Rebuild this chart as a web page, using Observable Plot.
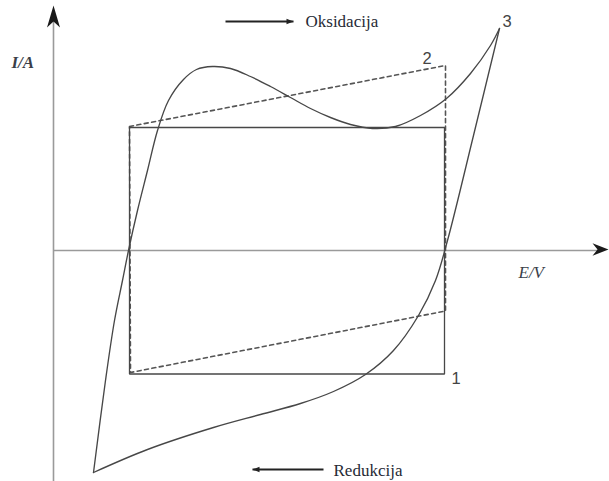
<!DOCTYPE html>
<html>
<head>
<meta charset="utf-8">
<script src="https://cdn.jsdelivr.net/npm/d3@7"></script>
<script src="https://cdn.jsdelivr.net/npm/@observablehq/plot@0.6"></script>
<style>
  html, body { margin: 0; padding: 0; background: #fff; }
  svg { display: block; }
</style>
</head>
<body>
<script>
// ---- Data (E and I in arbitrary units; origin at axis crossing) ----
// Curve 1: ideal capacitor (rectangle)
const rectE = [1.52, 7.82, 7.82, 1.52, 1.52];
const rectI = [2.46, 2.46, -2.47, -2.47, 2.46];
// Curve 2: capacitor with series resistance (dashed parallelogram)
const dashE = [1.52, 7.84, 7.84, 1.54, 1.52];
const dashI = [2.48, 3.70, -1.21, -2.44, 2.48];
// Curve 3: anodic (forward) branch
const anodicE = [0.80, 1.04, 1.22, 1.38, 1.50, 1.68, 1.88, 2.08, 2.30, 2.60, 2.86, 3.18, 3.54, 3.94, 4.34, 4.74, 5.14, 5.54, 5.94, 6.38, 6.84, 7.34, 7.86, 8.34, 8.74, 8.92];
const anodicI = [-4.44, -2.60, -1.40, -0.60, 0.00, 0.80, 1.60, 2.40, 3.00, 3.42, 3.62, 3.68, 3.64, 3.48, 3.28, 3.06, 2.84, 2.66, 2.52, 2.44, 2.48, 2.70, 3.04, 3.54, 4.10, 4.44];
// Curve 3: cathodic (reverse) branch
const cathodicE = [8.92, 8.40, 7.88, 7.64, 7.30, 6.80, 6.24, 5.60, 4.94, 4.14, 3.20, 1.88, 0.80];
const cathodicI = [4.44, 2.30, 0.20, -0.60, -1.30, -2.00, -2.48, -2.82, -3.06, -3.28, -3.54, -3.98, -4.44];
// Axis extents
const axisE = [0, 10.9];
const axisI = [-4.62, 4.6];
// Labels
const curveLabels = ["1", "2", "3"];
const curveLabelE = [7.96, 7.38, 8.98];
const curveLabelI = [-2.66, 3.74, 4.48];
const yLabel = "I/A", yLabelE = -0.84, yLabelI = 3.66;
const xLabel = "E/V", xLabelE = 9.30, xLabelI = -0.54;
const sweepLabels = ["Oksidacija", "Redukcija"];
const sweepLabelE = [5.04, 5.60];
const sweepLabelI = [4.48, -4.50];
const sweepArrowE1 = [3.44, 5.40];
const sweepArrowE2 = [4.80, 3.98];
const sweepArrowI = [4.58, -4.38];

// ---- Build tables ----
const pts = (E, I, s) => E.map((e, i) => ({E: e, I: I[i], s}));
const rect = pts(rectE, rectI, "1");
const dash = pts(dashE, dashI, "2");
const cyc = [...pts(anodicE, anodicI, "a"), ...pts(cathodicE, cathodicI, "c")];
const cLabels = curveLabels.map((t, i) => ({t, E: curveLabelE[i], I: curveLabelI[i]}));
const sLabels = sweepLabels.map((t, i) => ({t, E: sweepLabelE[i], I: sweepLabelI[i]}));
const sArrows = sweepArrowE1.map((e, i) => ({E1: e, E2: sweepArrowE2[i], I: sweepArrowI[i]}));

// ---- Custom arrowhead symbols (tip at origin) ----
const dartUp = {draw(c) { c.moveTo(0, 0); c.lineTo(6.5, 22); c.lineTo(0, 16); c.lineTo(-6.5, 22); c.closePath(); }};
const dartRight = {draw(c) { c.moveTo(0, 0); c.lineTo(-16, 6.3); c.lineTo(-11, 0); c.lineTo(-16, -6.3); c.closePath(); }};
const smallRight = {draw(c) { c.moveTo(0, 0); c.lineTo(-7, 2.8); c.lineTo(-7, -2.8); c.closePath(); }};
const smallLeft = {draw(c) { c.moveTo(0, 0); c.lineTo(7, 2.8); c.lineTo(7, -2.8); c.closePath(); }};

const curveColor = "#474747";
const axisColor = "#9a9a9a";
const serif = "Liberation Serif, Times New Roman, serif";

const chart = Plot.plot({
  width: 609,
  height: 481,
  margin: 0,
  style: {background: "#fff"},
  x: {domain: [-1.06, 11.12], axis: null},
  y: {domain: [-4.62, 5], axis: null},
  marks: [
    // axes
    Plot.ruleX([axisE[0]], {y1: axisI[0], y2: axisI[1], stroke: axisColor, strokeWidth: 1.6}),
    Plot.ruleY([0], {x1: axisE[0], x2: axisE[1], stroke: axisColor, strokeWidth: 1.6}),
    Plot.dot([{E: 0, I: 4.9}], {x: "E", y: "I", symbol: dartUp, fill: "#1a1a1a", stroke: "none", r: 4}),
    Plot.dot([{E: 11.1, I: 0.02}], {x: "E", y: "I", symbol: dartRight, fill: "#1a1a1a", stroke: "none", r: 4}),
    // curve 2 (dashed)
    Plot.line(dash, {x: "E", y: "I", stroke: "#555", strokeWidth: 1.6, strokeDasharray: "4,3.5"}),
    // curve 1 (rectangle)
    Plot.line(rect, {x: "E", y: "I", stroke: curveColor, strokeWidth: 1.3, strokeLinejoin: "miter"}),
    // curve 3
    Plot.line(cyc, {x: "E", y: "I", z: "s", curve: "catmull-rom", stroke: curveColor, strokeWidth: 1.35}),
    // sweep direction arrows
    Plot.link(sArrows, {x1: "E1", x2: "E2", y1: "I", y2: "I", stroke: "#222", strokeWidth: 1.8}),
    Plot.dot([{E: sweepArrowE2[0], I: sweepArrowI[0]}], {x: "E", y: "I", symbol: smallRight, fill: "#222", stroke: "none", r: 3}),
    Plot.dot([{E: sweepArrowE2[1], I: sweepArrowI[1]}], {x: "E", y: "I", symbol: smallLeft, fill: "#222", stroke: "none", r: 3}),
    // labels
    Plot.text(sLabels, {x: "E", y: "I", text: "t", textAnchor: "start", lineAnchor: "bottom", fontFamily: serif, fontSize: 17, fill: "#262a35"}),
    Plot.text([{t: yLabel, E: yLabelE, I: yLabelI}], {x: "E", y: "I", text: "t", textAnchor: "start", lineAnchor: "bottom", fontFamily: serif, fontStyle: "italic", fontWeight: "bold", fontSize: 17, fill: "#3a3f4a"}),
    Plot.text([{t: xLabel, E: xLabelE, I: xLabelI}], {x: "E", y: "I", text: "t", textAnchor: "start", lineAnchor: "bottom", fontFamily: serif, fontStyle: "italic", fontSize: 17, fill: "#3a3f4a"}),
    Plot.text(cLabels, {x: "E", y: "I", text: "t", textAnchor: "start", lineAnchor: "bottom", fontFamily: "Liberation Sans, Arial, sans-serif", fontSize: 16.5, fill: "#444"})
  ]
});
document.body.appendChild(chart);
</script>
</body>
</html>
